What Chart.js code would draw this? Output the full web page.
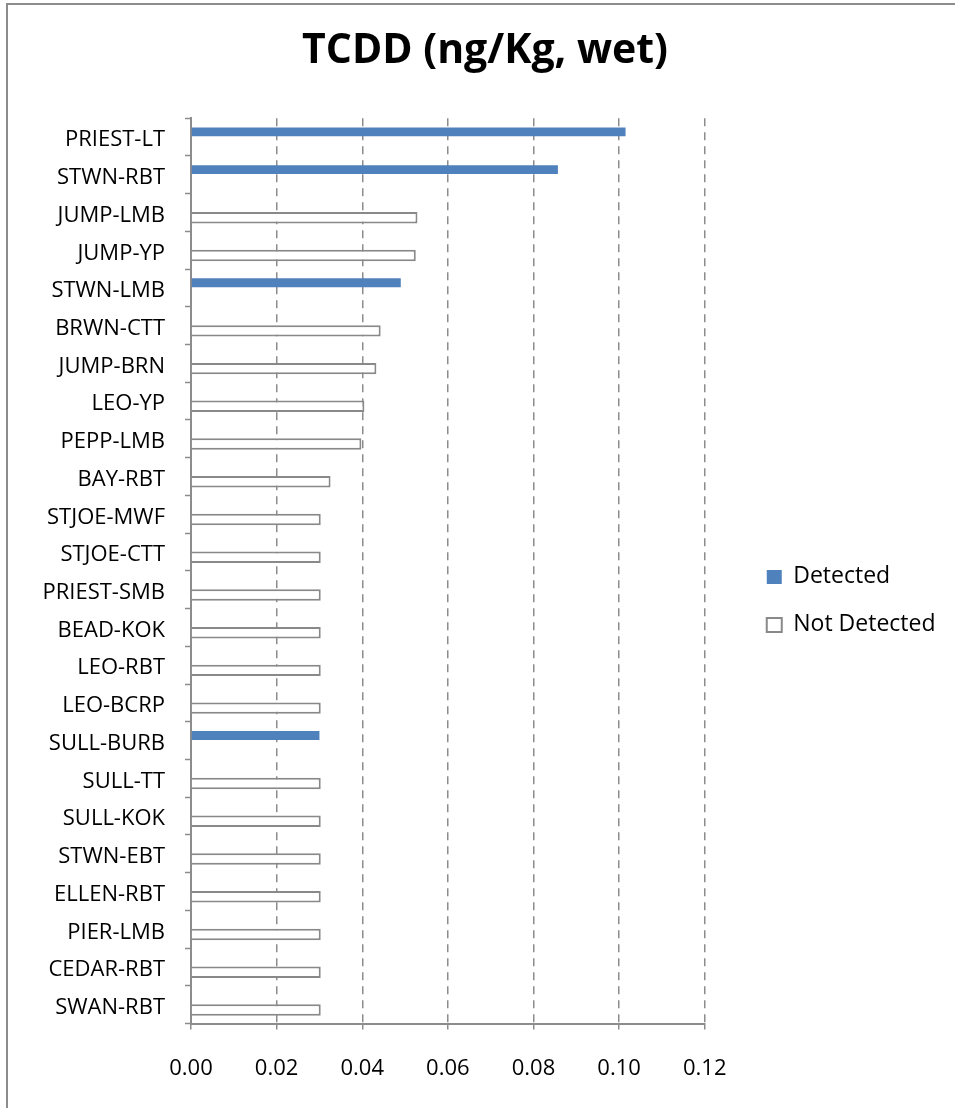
<!DOCTYPE html>
<html>
<head>
<meta charset="utf-8">
<script src="https://cdn.jsdelivr.net/npm/chart.js@4.4.0/dist/chart.umd.min.js"></script>
<style>
  html, body { margin: 0; padding: 0; background: #fff; overflow: hidden; }
  #wrap { position: relative; width: 955px; height: 1108px; overflow: hidden; }
  #frame { position: absolute; left: 6px; top: 3px; width: 1000px; height: 1200px; border: 2px solid #8c8c8c; }
  #chart { position: absolute; left: 0; top: 0; }
</style>
</head>
<body>
<div id="wrap"><div id="frame"></div><canvas id="chart" width="955" height="1108"></canvas></div>
<script>
// sites, top to bottom
const categories = [
  'PRIEST-LT', 'STWN-RBT', 'JUMP-LMB', 'JUMP-YP', 'STWN-LMB', 'BRWN-CTT',
  'JUMP-BRN', 'LEO-YP', 'PEPP-LMB', 'BAY-RBT', 'STJOE-MWF', 'STJOE-CTT',
  'PRIEST-SMB', 'BEAD-KOK', 'LEO-RBT', 'LEO-BCRP', 'SULL-BURB', 'SULL-TT',
  'SULL-KOK', 'STWN-EBT', 'ELLEN-RBT', 'PIER-LMB', 'CEDAR-RBT', 'SWAN-RBT'
];

// TCDD, ng/Kg wet (null where the other series holds the value)
const detected = [
  0.1015, 0.0857, null, null, 0.0490, null,
  null, null, null, null, null, null,
  null, null, null, null, 0.0300, null,
  null, null, null, null, null, null
];
const notDetected = [
  null, null, 0.0529, 0.0525, null, 0.0443,
  0.0433, 0.0405, 0.0398, 0.0326, 0.0303, 0.0303,
  0.0303, 0.0303, 0.0303, 0.0303, null, 0.0303,
  0.0303, 0.0303, 0.0303, 0.0303, 0.0303, 0.0303
];

const xTickValues = [0, 0.02, 0.04, 0.06, 0.08, 0.10, 0.12];

const gray = '#8c8c8c';
const font = 'Open Sans';

// push legend and title over a bit, the way Excel lays them out
const nudge = {
  id: 'nudge',
  afterLayout(chart) {
    const lg = chart.legend, area = chart.chartArea;
    const dx = area.right + 37 - lg.left;
    lg.left += dx; lg.right += dx;
    const dy = (area.top + area.bottom) / 2 + 30 - (lg.top + lg.bottom) / 2;
    lg.top += dy; lg.bottom += dy;
    const t = chart.titleBlock;
    const tx = chart.width / 2 + 7.5 - (t.left + t.right) / 2;
    t.left += tx; t.right += tx;
  }
};

const ctx = document.getElementById('chart').getContext('2d');
new Chart(ctx, {
  type: 'bar',
  data: {
    labels: categories,
    datasets: [{
      label: 'Detected',
      data: detected,
      backgroundColor: '#4F81BD',
      borderWidth: 0,
      barPercentage: 0.86,
      categoryPercentage: 0.55
    }, {
      label: 'Not Detected',
      data: notDetected,
      backgroundColor: '#ffffff',
      borderColor: '#898989',
      borderWidth: 2,
      barPercentage: 1.1,
      categoryPercentage: 0.55
    }]
  },
  options: {
    indexAxis: 'y',
    responsive: false,
    animation: false,
    layout: { padding: { left: 40, right: 46.5, top: 0, bottom: 0 } },
    plugins: {
      title: {
        display: true,
        text: 'TCDD (ng/Kg, wet)',
        color: '#000',
        font: { family: font, size: 41, weight: 'bold' },
        padding: { top: 27, bottom: 42 }
      },
      legend: {
        position: 'right',
        labels: {
          color: '#000',
          font: { family: font, size: 23 },
          boxWidth: 15,
          boxHeight: 14,
          padding: 25
        }
      },
      tooltip: { enabled: false }
    },
    scales: {
      x: {
        min: 0,
        max: 0.12,
        afterBuildTicks: (s) => { s.ticks = xTickValues.map(v => ({ value: v })); },
        ticks: {
          color: '#000',
          font: { family: font, size: 22 },
          padding: 26,
          callback: (v) => Number(v).toFixed(2)
        },
        grid: { color: gray, lineWidth: 1.5, tickLength: 6, tickColor: gray, tickWidth: 1.5 },
        border: { display: true, color: gray, width: 2, dash: [8, 6] }
      },
      y: {
        afterFit: (s) => { s.width = 151; },
        ticks: {
          color: '#000',
          font: { family: font, size: 22 },
          padding: 20,
          labelOffset: 3,
          autoSkip: false
        },
        grid: { drawOnChartArea: false, tickLength: 6, tickColor: gray, tickWidth: 1.5 },
        border: { display: true, color: gray, width: 2 }
      }
    }
  },
  plugins: [nudge]
});
</script>
</body>
</html>
